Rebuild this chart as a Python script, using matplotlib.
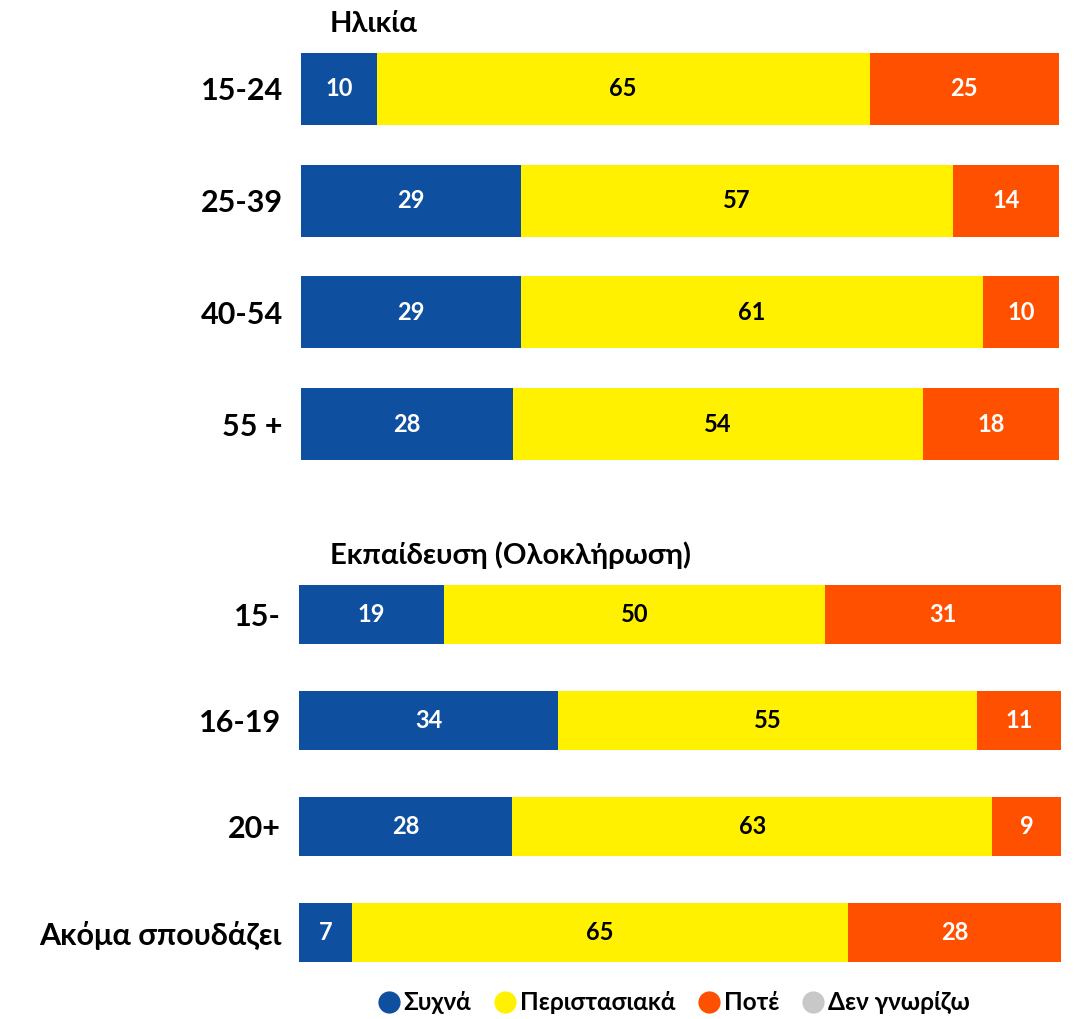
import numpy as np
import matplotlib
matplotlib.use("Agg")
import matplotlib.pyplot as plt
from matplotlib.lines import Line2D
from matplotlib import font_manager

# pick a family that actually has a bold face installed
candidates = ['Lato', 'Open Sans', 'Noto Sans', 'Roboto', 'Liberation Sans', 'DejaVu Sans']
bold_fams = {f.name for f in font_manager.fontManager.ttflist
             if isinstance(f.weight, int) and f.weight >= 700 or f.weight == 'bold'}
family = next((c for c in candidates if c in bold_fams), 'DejaVu Sans')
plt.rcParams['font.family'] = [family, 'DejaVu Sans']
plt.rcParams['font.weight'] = 'bold'

series = ['Συχνά', 'Περιστασιακά', 'Ποτέ', 'Δεν γνωρίζω']
colors = ['#0E4FA0', '#FFF100', '#FF5000', '#C8C8C8']
text_colors = ['white', 'black', 'white', 'black']

age_title = 'Ηλικία'
age_cats = ['15-24', '25-39', '40-54', '55 +']
age_often = [10, 29, 29, 28]
age_sometimes = [65, 57, 61, 54]
age_never = [25, 14, 10, 18]
age_dk = [0, 0, 0, 0]

edu_title = 'Εκπαίδευση (Ολοκλήρωση)'
edu_cats = ['15-', '16-19', '20+', 'Ακόμα σπουδάζει']
edu_often = [19, 34, 28, 7]
edu_sometimes = [50, 55, 63, 65]
edu_never = [31, 11, 9, 28]
edu_dk = [0, 0, 0, 0]

W, H = 1077, 1019
fig = plt.figure(figsize=(W / 100, H / 100), dpi=100)


def panel(rect_px, cats, vals, bar_h):
    x0, x1, y0, y1 = rect_px
    ax = fig.add_axes([x0 / W, 1 - y1 / H, (x1 - x0) / W, (y1 - y0) / H])
    y = np.arange(len(cats))
    left = np.zeros(len(cats))
    for v, c, tc in zip(vals, colors, text_colors):
        v = np.array(v, dtype=float)
        ax.barh(y, v, left=left, height=bar_h, color=c, edgecolor='none')
        for yi, (l, w) in enumerate(zip(left, v)):
            if w > 0:
                ax.text(l + w / 2, yi, f'{int(w)}', ha='center', va='center',
                        color=tc, fontsize=17, fontweight='bold')
        left += v
    ax.set_xlim(0, 100)
    ax.set_ylim(len(cats) - 0.5, -0.5)
    ax.set_yticks(y)
    ax.set_yticklabels(cats, fontsize=22, fontweight='bold')
    ax.tick_params(axis='y', length=0, pad=13)
    ax.set_xticks([])
    for s in ax.spines.values():
        s.set_visible(False)
    return ax


panel((301, 1059, 33, 480), age_cats,
      [age_often, age_sometimes, age_never, age_dk], 0.645)
fig.text(330 / W, 1 - 24 / H, age_title, fontsize=21, fontweight='bold',
         ha='left', va='center')

panel((299, 1061, 561, 986), edu_cats,
      [edu_often, edu_sometimes, edu_never, edu_dk], 0.555)
fig.text(330 / W, 1 - 555 / H, edu_title, fontsize=21, fontweight='bold',
         ha='left', va='center')

handles = [Line2D([0], [0], marker='o', linestyle='none', markersize=16,
                  markerfacecolor=c, markeredgecolor='none') for c in colors]
fig.legend(handles, series, loc='center', bbox_to_anchor=(672 / W, 1 - 1003 / H),
           ncol=4, frameon=False, handletextpad=0.0, columnspacing=0.8,
           handlelength=1.2, prop={'size': 17.5, 'weight': 'bold'})

fig.savefig('out.png', dpi=100)
